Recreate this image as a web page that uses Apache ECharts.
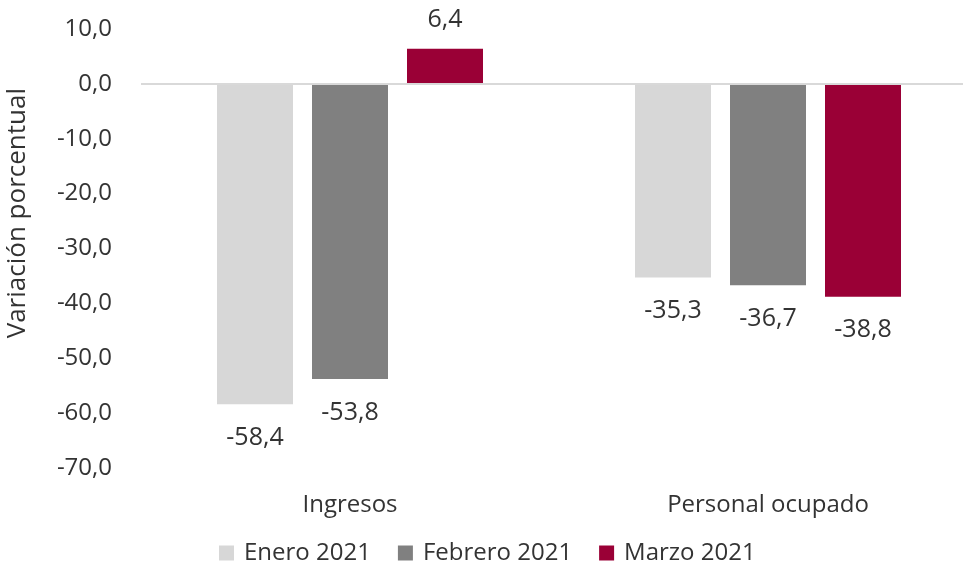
<!DOCTYPE html>
<html>
<head>
<meta charset="utf-8">
<script src="https://cdn.jsdelivr.net/npm/echarts@6/dist/echarts.min.js"></script>
<style>html,body{margin:0;padding:0;background:#fff;overflow:hidden;}#c{width:1000px;height:571px;}</style>
</head>
<body>
<div id="c"></div>
<script>
const categories = ['Ingresos', 'Personal ocupado'];
const seriesNames = ['Enero 2021', 'Febrero 2021', 'Marzo 2021'];
const enero = [-58.4, -35.3];
const febrero = [-53.8, -36.7];
const marzo = [6.4, -38.8];
const yTicks = { min: -70, max: 10, interval: 10 };
const colors = ['#D7D7D7', '#808080', '#9A0036'];

const FONT = 'Open Sans';
const TEXT = '#333333';
const fmt = v => v.toFixed(1).replace('.', ',');

const chart = echarts.init(document.getElementById('c'), null, { renderer: 'canvas' });

function mk(name, data, color, withZero) {
  const s = {
    name: name,
    type: 'bar',
    data: data.map(v => ({ value: v, label: { distance: v < 0 ? 21 : 16 } })),
    barWidth: 76,
    barGap: '25%',
    itemStyle: { color: color },
    label: {
      show: true,
      position: 'outside',
      fontFamily: FONT,
      fontSize: 25,
      color: TEXT,
      formatter: p => fmt(p.value)
    }
  };
  if (withZero) {
    s.markLine = {
      silent: true,
      symbol: 'none',
      label: { show: false },
      lineStyle: { color: '#D9D9D9', type: 'solid', width: 2 },
      data: [{ yAxis: 0 }]
    };
  }
  return s;
}

chart.setOption({
  backgroundColor: '#fff',
  animation: false,
  textStyle: { fontFamily: FONT },
  grid: { left: 141, width: 836, top: 29, bottom: 103, containLabel: false },
  legend: {
    top: 536,
    left: 214,
    itemWidth: 15,
    itemHeight: 15,
    itemGap: 27,
    icon: 'rect',
    textStyle: { fontFamily: FONT, fontSize: 24, color: TEXT, padding: [0, 0, 0, 5] },
    data: seriesNames
  },
  graphic: [{
    type: 'text',
    left: 5,
    top: 88,
    rotation: Math.PI / 2,
    style: { text: 'Variación porcentual', font: '26px "' + FONT + '"', fill: TEXT }
  }],
  xAxis: {
    type: 'category',
    data: categories,
    axisLine: { show: false, onZero: false },
    axisTick: { show: false },
    axisLabel: { fontFamily: FONT, fontSize: 24, color: TEXT, margin: 25 }
  },
  yAxis: {
    type: 'value',
    min: yTicks.min,
    max: yTicks.max,
    interval: yTicks.interval,
    axisLine: { show: false },
    axisTick: { show: false },
    splitLine: { show: false },
    axisLabel: { fontFamily: FONT, fontSize: 24, color: TEXT, margin: 29, formatter: v => fmt(v) }
  },
  series: [
    mk(seriesNames[0], enero, colors[0], true),
    mk(seriesNames[1], febrero, colors[1], false),
    mk(seriesNames[2], marzo, colors[2], false)
  ]
});
</script>
</body>
</html>
